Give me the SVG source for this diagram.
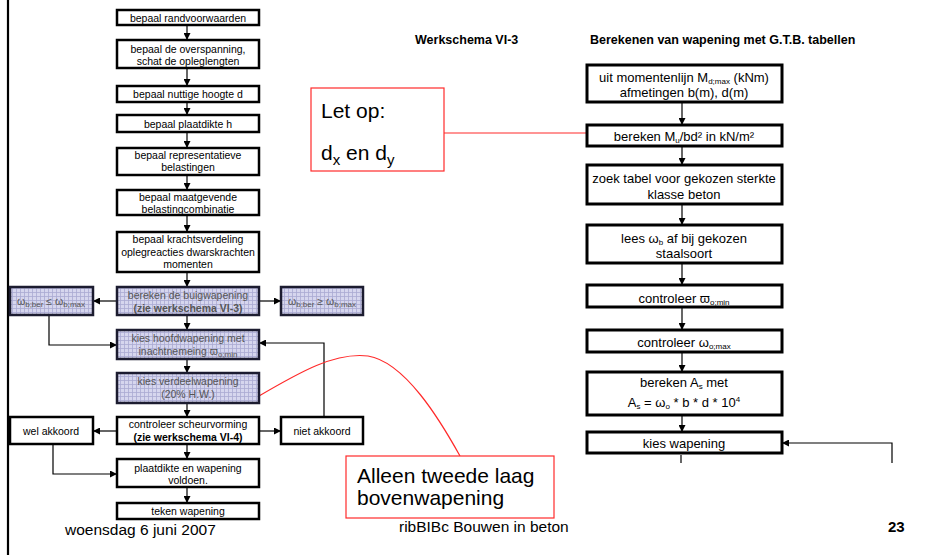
<svg xmlns="http://www.w3.org/2000/svg" width="952" height="555" viewBox="0 0 952 555">
  <defs>
    <pattern id="grid" width="4" height="4" patternUnits="userSpaceOnUse">
      <rect width="4" height="4" fill="#d6d6ee"/>
      <path d="M0,0.5 H4 M0.5,0 V4" stroke="#a9a9d2" stroke-width="0.8"/>
    </pattern>
    <marker id="arr" markerWidth="7" markerHeight="7" refX="7" refY="3.5" orient="auto" markerUnits="userSpaceOnUse">
      <path d="M0,0 L7,3.5 L0,7 z" fill="#000"/>
    </marker>
    <style>
      text { font-family: "Liberation Sans", Arial, sans-serif; fill: #000; }
      .box { fill: #fff; stroke: #000; stroke-width: 2.5; }
      .rbox { fill: #fff; stroke: #000; stroke-width: 3; }
      .hbox { fill: url(#grid); stroke: #1c1c30; stroke-width: 2.5; }
      .t { font-size: 10.5px; text-anchor: middle; }
      .tg { font-size: 10.5px; text-anchor: middle; fill: #555; }
      .b { font-weight: bold; }
      .rt { font-size: 13px; text-anchor: middle; }
      .sub { font-size: 8px; }
      .con { fill: none; stroke: #000; stroke-width: 1.2; }
      .red { fill: #fff; stroke: #ff2a2a; stroke-width: 1.2; }
      .redl { fill: none; stroke: #ff2a2a; stroke-width: 1.2; }
      .call { font-size: 21px; }
      .head { font-size: 12.5px; font-weight: bold; }
    </style>
  </defs>

  <rect width="952" height="555" fill="#fff"/>
  <line x1="8" y1="0" x2="8" y2="555" stroke="#000" stroke-width="2.2"/>

  <!-- headings -->
  <text class="head" x="415" y="44">Werkschema VI-3</text>
  <text class="head" x="590" y="44">Berekenen van wapening met G.T.B. tabellen</text>

  <!-- connectors -->
  <g id="connectors">
    <g class="con" marker-end="url(#arr)">
      <line x1="187" y1="25" x2="187" y2="40"/>
      <line x1="187" y1="68" x2="187" y2="86"/>
      <line x1="187" y1="102" x2="187" y2="115"/>
      <line x1="187" y1="132" x2="187" y2="148"/>
      <line x1="187" y1="175" x2="187" y2="190"/>
      <line x1="187" y1="215" x2="187" y2="232"/>
      <line x1="187" y1="272" x2="187" y2="287"/>
      <line x1="117" y1="301" x2="93" y2="301"/>
      <line x1="259" y1="301" x2="281" y2="301"/>
      <line x1="187" y1="315" x2="187" y2="330"/>
      <polyline points="49,315 49,345 117,345"/>
      <polyline points="324,417 324,343 259,343"/>
      <line x1="187" y1="359" x2="187" y2="373"/>
      <line x1="187" y1="403" x2="187" y2="417"/>
      <line x1="117" y1="431" x2="93" y2="431"/>
      <line x1="259" y1="431" x2="281" y2="431"/>
      <polyline points="53,444 53,474 117,474"/>
      <line x1="187" y1="444" x2="187" y2="459"/>
      <line x1="187" y1="487" x2="187" y2="503"/>

      <line x1="682" y1="102" x2="682" y2="125"/>
      <line x1="682" y1="146" x2="682" y2="165"/>
      <line x1="682" y1="204" x2="682" y2="225"/>
      <line x1="682" y1="263" x2="682" y2="285"/>
      <line x1="682" y1="307" x2="682" y2="330"/>
      <line x1="682" y1="352" x2="682" y2="372"/>
      <line x1="682" y1="415" x2="682" y2="432"/>
      <polyline points="892,463 892,443 782,443"/>
    </g>
    <line class="con" x1="681" y1="455" x2="681" y2="463"/>
    <!-- callout leaders -->
    <line class="redl" x1="444" y1="133" x2="587" y2="133"/>
    <path class="redl" d="M259,396 C300,372 335,352 368,356 C405,362 440,420 460,456"/>
  </g>

  <!-- left column -->
  <g id="n1"><rect class="box" x="117" y="10" width="142" height="15"/><text class="t" x="188" y="22">bepaal randvoorwaarden</text></g>
  <g id="n2"><rect class="box" x="117" y="40" width="142" height="28"/><text class="t" x="188" y="53">bepaal de overspanning,</text><text class="t" x="188" y="65">schat de opleglengten</text></g>
  <g id="n3"><rect class="box" x="117" y="86" width="142" height="16"/><text class="t" x="188" y="98">bepaal nuttige hoogte d</text></g>
  <g id="n4"><rect class="box" x="117" y="115" width="142" height="17"/><text class="t" x="188" y="128">bepaal plaatdikte h</text></g>
  <g id="n5"><rect class="box" x="117" y="148" width="142" height="27"/><text class="t" x="188" y="159">bepaal representatieve</text><text class="t" x="188" y="171">belastingen</text></g>
  <g id="n6"><rect class="box" x="117" y="190" width="142" height="25"/><text class="t" x="188" y="201">bepaal maatgevende</text><text class="t" x="188" y="213">belastingcombinatie</text></g>
  <g id="n7"><rect class="box" x="117" y="232" width="142" height="40"/><text class="t" x="188" y="243">bepaal krachtsverdeling</text><text class="t" x="188" y="256">oplegreacties dwarskrachten</text><text class="t" x="188" y="268">momenten</text></g>
  <g id="n8"><rect class="hbox" x="117" y="287" width="142" height="28"/><text class="tg" x="188" y="299">bereken de buigwapening</text><text class="tg b" x="188" y="312">(zie werkschema VI-3)</text></g>
  <g id="n8l"><rect class="hbox" x="10" y="287" width="83" height="28"/><text class="tg" x="51" y="305">ω<tspan class="sub" dy="2">b;ber</tspan><tspan dy="-2"> ≤ ω</tspan><tspan class="sub" dy="2">b;max</tspan></text></g>
  <g id="n8r"><rect class="hbox" x="281" y="287" width="82" height="28"/><text class="tg" x="322" y="305">ω<tspan class="sub" dy="2">b;ber</tspan><tspan dy="-2"> ≥ ω</tspan><tspan class="sub" dy="2">b;max</tspan></text></g>
  <g id="n9"><rect class="hbox" x="117" y="330" width="142" height="29"/><text class="tg" x="188" y="342">kies hoofdwapening met</text><text class="tg" x="188" y="355">inachtnemeing ϖ<tspan class="sub" dy="2">o;min</tspan></text></g>
  <g id="n10"><rect class="hbox" x="117" y="373" width="142" height="30"/><text class="tg" x="188" y="385">kies verdeelwapening</text><text class="tg" x="188" y="398">(20% H.W.)</text></g>
  <g id="n11"><rect class="box" x="117" y="417" width="142" height="27"/><text class="t" x="188" y="428">controleer scheurvorming</text><text class="t b" x="188" y="441">(zie werkschema VI-4)</text></g>
  <g id="n11l"><rect class="box" x="10" y="417" width="83" height="27"/><text class="t" x="51" y="435">wel akkoord</text></g>
  <g id="n11r"><rect class="box" x="281" y="417" width="82" height="27"/><text class="t" x="322" y="435">niet akkoord</text></g>
  <g id="n12"><rect class="box" x="117" y="459" width="142" height="28"/><text class="t" x="188" y="472">plaatdikte en wapening</text><text class="t" x="188" y="484">voldoen.</text></g>
  <g id="n13"><rect class="box" x="117" y="503" width="142" height="16"/><text class="t" x="188" y="515">teken wapening</text></g>

  <!-- right column -->
  <g id="r1"><rect class="rbox" x="587" y="65" width="195" height="37"/><text class="rt" x="684" y="82">uit momentenlijn M<tspan class="sub" dy="2">d;max</tspan><tspan dy="-2"> (kNm)</tspan></text><text class="rt" x="684" y="97">afmetingen b(m), d(m)</text></g>
  <g id="r2"><rect class="rbox" x="587" y="125" width="195" height="21"/><text class="rt" x="684" y="141">bereken M<tspan class="sub" dy="2">u</tspan><tspan dy="-2">/bd² in kN/m²</tspan></text></g>
  <g id="r3"><rect class="rbox" x="587" y="165" width="195" height="39"/><text class="rt" x="684" y="183">zoek tabel voor gekozen sterkte</text><text class="rt" x="684" y="199">klasse beton</text></g>
  <g id="r4"><rect class="rbox" x="587" y="225" width="195" height="38"/><text class="rt" x="684" y="243">lees ω<tspan class="sub" dy="2">b</tspan><tspan dy="-2"> af bij gekozen</tspan></text><text class="rt" x="684" y="258">staalsoort</text></g>
  <g id="r5"><rect class="rbox" x="587" y="285" width="195" height="22"/><text class="rt" x="684" y="303">controleer ϖ<tspan class="sub" dy="2">o;min</tspan></text></g>
  <g id="r6"><rect class="rbox" x="587" y="330" width="195" height="22"/><text class="rt" x="684" y="347">controleer ω<tspan class="sub" dy="2">o;max</tspan></text></g>
  <g id="r7"><rect class="rbox" x="587" y="372" width="195" height="43"/><text class="rt" x="684" y="387">bereken A<tspan class="sub" dy="2">s</tspan><tspan dy="-2"> met</tspan></text><text class="rt" x="684" y="407">A<tspan class="sub" dy="2">s</tspan><tspan dy="-2"> = ω</tspan><tspan class="sub" dy="2">o</tspan><tspan dy="-2"> * b * d * 10</tspan><tspan class="sub" dy="-5">4</tspan></text></g>
  <g id="r8"><rect class="rbox" x="587" y="432" width="195" height="21"/><text class="rt" x="684" y="448">kies wapening</text></g>

  <!-- callouts -->
  <g id="note1"><rect class="red" x="311" y="88" width="133" height="83"/><text class="call" x="321" y="118">Let op:</text><text class="call" x="321" y="160">d<tspan font-size="15px" dy="5">x</tspan><tspan dy="-5"> en d</tspan><tspan font-size="15px" dy="5">y</tspan></text></g>
  <g id="note2"><rect class="red" x="346" y="456" width="208" height="62"/><text class="call" x="357" y="483">Alleen tweede laag</text><text class="call" x="357" y="505">bovenwapening</text></g>

  <!-- footer -->
  <text x="65" y="535" font-size="15.5px">woensdag 6 juni 2007</text>
  <text x="399" y="532" font-size="15.5px">ribBIBc Bouwen in beton</text>
  <text x="888" y="532" font-size="15px" font-weight="bold">23</text>
</svg>
